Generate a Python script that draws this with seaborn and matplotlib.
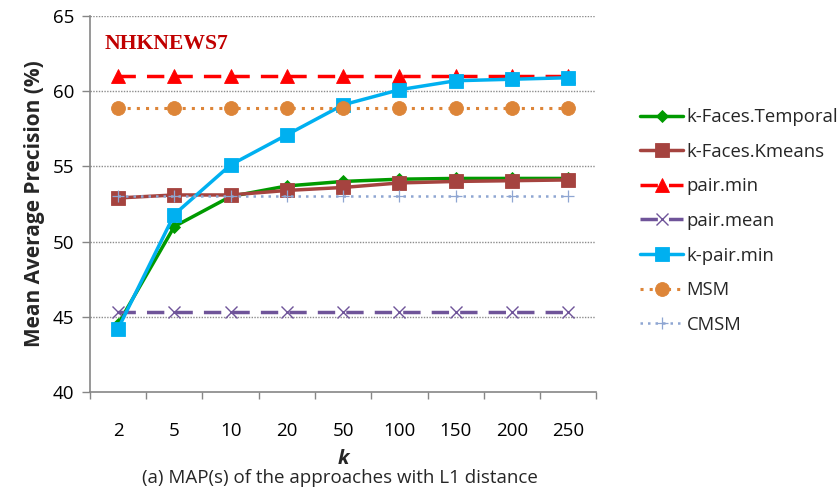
import matplotlib
matplotlib.use("Agg")
import matplotlib.pyplot as plt
import seaborn as sns
import pandas as pd

# Values of k (categorical x axis)
k_values = ["2", "5", "10", "20", "50", "100", "150", "200", "250"]

# Mean average precision (%) per approach
faces_temporal = [44.5, 51.0, 53.0, 53.7, 54.0, 54.15, 54.2, 54.2, 54.2]
faces_kmeans = [52.9, 53.1, 53.1, 53.4, 53.6, 53.9, 54.0, 54.05, 54.1]
pair_min = [61.0] * 9
pair_mean = [45.3] * 9
k_pair_min = [44.2, 51.8, 55.1, 57.1, 59.1, 60.1, 60.7, 60.8, 60.9]
msm = [58.9] * 9
cmsm = [53.05] * 9

series_names = ["k-Faces.Temporal", "k-Faces.Kmeans", "pair.min", "pair.mean",
                "k-pair.min", "MSM", "CMSM"]
series_values = [faces_temporal, faces_kmeans, pair_min, pair_mean,
                 k_pair_min, msm, cmsm]

styles = {
    "k-Faces.Temporal": dict(color="#009a00", marker="D", ms=6, lw=2.5, ls="-"),
    "k-Faces.Kmeans": dict(color="#a5433f", marker="s", ms=10, lw=2.5, ls="-"),
    "pair.min": dict(color="#ff0000", marker="^", ms=10, lw=2.5, ls=(0, (5, 3.2))),
    "pair.mean": dict(color="#6f5499", marker="x", ms=8, lw=2.5, ls=(0, (5, 3.2)), mew=1.0),
    "k-pair.min": dict(color="#00b0f0", marker="s", ms=10, lw=2.5, ls="-"),
    "MSM": dict(color="#dd8538", marker="o", ms=10, lw=2.2, ls=(0, (1, 2.0))),
    "CMSM": dict(color="#8fa6d2", marker="+", ms=8, lw=1.8, ls=(0, (1, 2.0)), mew=0.9),
}

records = []
for name, vals in zip(series_names, series_values):
    for i, (k, v) in enumerate(zip(k_values, vals)):
        records.append({"approach": name, "pos": i, "k": k, "map": v})
df = pd.DataFrame(records)

sns.set_theme(style="white")
plt.rcParams["font.family"] = ["Open Sans", "DejaVu Sans"]

fig = plt.figure(figsize=(8.4, 4.88), dpi=100)
ax = fig.add_axes([0.107, 0.197, 0.603, 0.770])

for name in series_names:
    st = styles[name]
    sub = df[df["approach"] == name]
    sns.lineplot(data=sub, x="pos", y="map", ax=ax, label=name,
                 color=st["color"], linewidth=st["lw"], linestyle=st["ls"],
                 marker=st["marker"], markersize=st["ms"],
                 markeredgewidth=st.get("mew", 0.6),
                 markeredgecolor=st["color"], markerfacecolor=st["color"],
                 zorder=3)

ax.set_xlim(-0.5, len(k_values) - 0.5)
ax.set_ylim(40, 65)
ax.set_yticks([40, 45, 50, 55, 60, 65])
ax.set_xticks(range(len(k_values)))
ax.set_xticklabels(k_values)
ax.set_xticks([i - 0.5 for i in range(len(k_values) + 1)], minor=True)

ax.tick_params(axis="x", which="major", length=0, pad=22, labelsize=13.5, colors="#000000")
ax.tick_params(axis="x", which="minor", length=5, width=1, color="#868686", direction="out")
ax.tick_params(axis="y", which="major", length=6, width=1, color="#868686",
               direction="out", pad=5, labelsize=13.5, labelcolor="#000000")
ax.tick_params(axis="y", left=True)
ax.tick_params(axis="x", which="minor", bottom=True)

for side in ["top", "right"]:
    ax.spines[side].set_visible(False)
for side in ["left", "bottom"]:
    ax.spines[side].set_color("#868686")
    ax.spines[side].set_linewidth(1.2)

for yv in [45, 50, 55, 60, 65]:
    ax.axhline(yv, color="#8c8c8c", linewidth=1.0, linestyle=(0, (1, 1)), zorder=1)

ax.set_ylabel("Mean Average Precision (%)", fontsize=15, fontweight="bold", labelpad=6)
ax.set_xlabel("k", fontsize=14.5, fontweight="bold", fontstyle="italic", labelpad=6)

ax.text(0.028, 0.926, "NHKNEWS7", transform=ax.transAxes, fontsize=15.6,
        fontweight="bold", color="#c00000", family=["Liberation Serif", "DejaVu Serif"],
        va="center", ha="left")

fig.text(0.405, 0.021, "(a) MAP(s) of the approaches with L1 distance",
         fontsize=13.5, ha="center", va="center")

leg = ax.legend(loc="upper left", bbox_to_anchor=(1.072, 0.775), frameon=False,
                fontsize=13.3, handlelength=2.3, handletextpad=0.2,
                labelspacing=0.9, borderaxespad=0)

fig.savefig("out.png", dpi=100)
